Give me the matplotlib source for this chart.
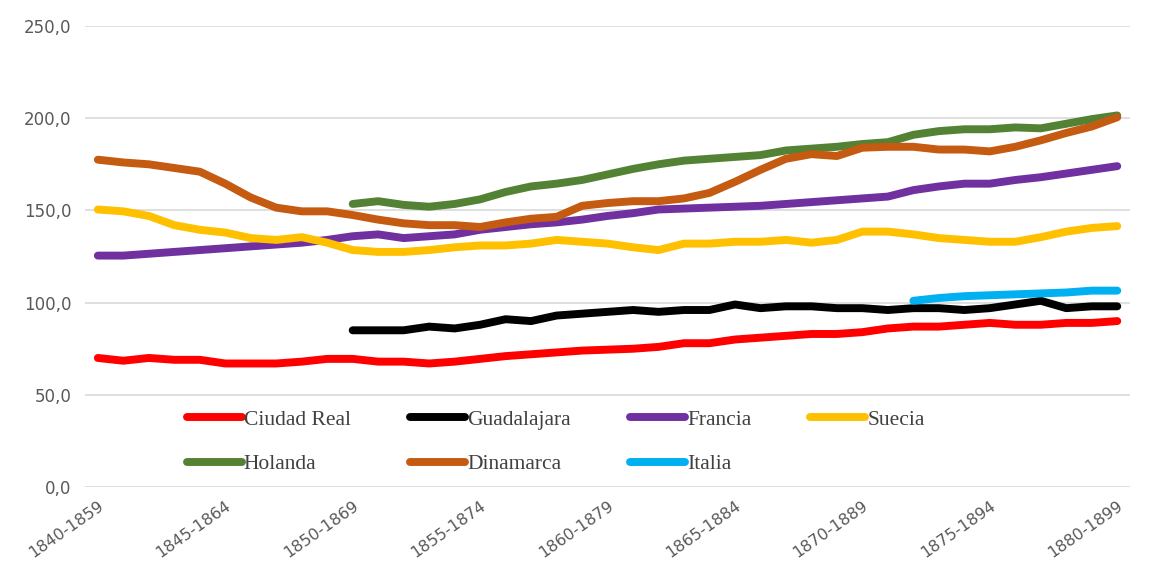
import matplotlib
matplotlib.use("Agg")
import matplotlib.pyplot as plt
import numpy as np

# 20-year moving windows, 1840-1859 ... 1880-1899
periods = [f"{y}-{y + 19}" for y in range(1840, 1881)]

ciudad_real = [70, 68.5, 70, 69, 69, 67, 67, 67, 68, 69.5, 69.5, 68, 68, 67, 68, 69.5,
               71, 72, 73, 74, 74.5, 75, 76, 78, 78, 80, 81, 82, 83, 83, 84, 86, 87,
               87, 88, 89, 88, 88, 89, 89, 90]
guadalajara = [None] * 10 + [85, 85, 85, 87, 86, 88, 91, 90, 93, 94, 95, 96, 95, 96, 96,
                             99, 97, 98, 98, 97, 97, 96, 97, 97, 96, 97, 99, 101, 97, 98, 98]
francia = [125.5, 125.5, 126.5, 127.5, 128.5, 129.5, 130.5, 131.5, 132.5, 134, 136, 137,
           135, 136, 137, 139.5, 141, 142.5, 143.5, 145, 147, 148.5, 150.5, 151, 151.5,
           152, 152.5, 153.5, 154.5, 155.5, 156.5, 157.5, 161, 163, 164.5, 164.5, 166.5,
           168, 170, 172, 174]
suecia = [150.5, 149.5, 147, 142, 139.5, 138, 135, 134, 135.5, 132.5, 128.5, 127.5, 127.5,
          128.5, 130, 131, 131, 132, 134, 133, 132, 130, 128.5, 132, 132, 133, 133, 134,
          132.5, 134, 138.5, 138.5, 137, 135, 134, 133, 133, 135.5, 138.5, 140.5, 141.5]
holanda = [None] * 10 + [153.5, 155, 153, 152, 153.5, 156, 160, 163, 164.5, 166.5, 169.5,
                         172.5, 175, 177, 178, 179, 180, 182.5, 183.5, 184.5, 186, 187,
                         191, 193, 194, 194, 195, 194.5, 197, 199.5, 201.5]
dinamarca = [177.5, 176, 175, 173, 171, 164.5, 157, 151.5, 149.5, 149.5, 147.5, 145, 143,
             142, 142, 141, 143.5, 145.5, 146.5, 152.5, 154, 155, 155, 156.5, 159.5, 165.5,
             172, 178, 180.5, 179.5, 184, 184.5, 184.5, 183, 183, 182, 184.5, 188, 192,
             195.5, 200.5]
italia = [None] * 32 + [101, 102.5, 103.5, 104, 104.5, 105, 105.5, 106.5, 106.5]

series = [
    ("Ciudad Real", ciudad_real, "#FF0000"),
    ("Guadalajara", guadalajara, "#000000"),
    ("Francia", francia, "#7030A0"),
    ("Suecia", suecia, "#FFC000"),
    ("Holanda", holanda, "#548235"),
    ("Dinamarca", dinamarca, "#C55A11"),
    ("Italia", italia, "#00B0F0"),
]

fig = plt.figure(figsize=(11.5, 5.71), dpi=100)
ax = fig.add_axes([0.074, 0.147, 0.9086, 0.8075])

x = np.arange(len(periods))
lines = {}
for name, vals, color in series:
    y = np.array([np.nan if v is None else v for v in vals], dtype=float)
    ln, = ax.plot(x, y, color=color, lw=5.7, solid_capstyle="round",
                  solid_joinstyle="round", label=name)
    lines[name] = ln

ax.set_xlim(-0.5, len(periods) - 0.5)
ax.set_ylim(0, 250)
ax.set_yticks(np.arange(0, 251, 50))
ax.set_yticklabels([f"{v:.1f}".replace(".", ",") for v in np.arange(0, 251, 50)])
ax.set_xticks(x[::5])
ax.set_xticklabels(periods[::5], rotation=35, ha="right", va="top",
                   rotation_mode="anchor")

ax.grid(axis="y", color="#D9D9D9", lw=1.2)
ax.set_axisbelow(True)
for s in ax.spines.values():
    s.set_visible(False)
ax.tick_params(length=0, colors="#595959")
ax.tick_params(axis="y", pad=10, labelsize=12)
ax.tick_params(axis="x", pad=8, labelsize=11.5)

# column-major order so rows read CR, Guad, Francia, Suecia / Holanda, Dinamarca, Italia
order = ["Ciudad Real", "Holanda", "Guadalajara", "Dinamarca", "Francia", "Italia", "Suecia"]
leg = ax.legend([lines[n] for n in order], order, ncol=4, loc="lower left",
                bbox_to_anchor=(0.085, 0.0), frameon=False,
                prop={"family": "Liberation Serif", "size": 15.5},
                handlelength=2.55, handletextpad=0.1, columnspacing=2.75,
                labelspacing=1.12, borderaxespad=0.2)
for t in leg.get_texts():
    t.set_color("#404040")

fig.savefig("out.png", dpi=100, facecolor="white")
